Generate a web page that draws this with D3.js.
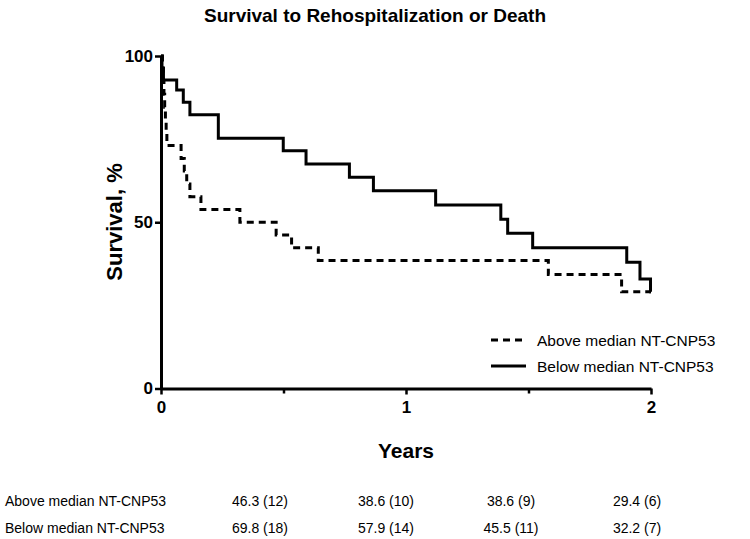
<!DOCTYPE html>
<html><head><meta charset="utf-8">
<script src="https://cdn.jsdelivr.net/npm/d3@7"></script>
<style>
body{margin:0;background:#fff;}
svg{display:block;font-family:Arial,"Liberation Sans",sans-serif;}
</style></head>
<body><svg id="c" width="750" height="539"></svg>
<script>
// ---- data ----
const aboveTimes    = [0, 0.006, 0.009, 0.012, 0.015, 0.018, 0.021, 0.024, 0.082, 0.095, 0.105, 0.118, 0.163, 0.322, 0.470, 0.533, 0.642, 1.581, 1.880, 2.0];
const aboveSurvival = [100, 96.2, 92.3, 88.5, 84.6, 80.8, 76.9, 73.1, 69.2, 65.4, 61.5, 57.7, 53.8, 50.0, 46.2, 42.3, 38.5, 34.3, 29.1, 29.1];
const belowTimes    = [0, 0.004, 0.010, 0.064, 0.091, 0.118, 0.234, 0.499, 0.592, 0.769, 0.867, 1.121, 1.387, 1.415, 1.517, 1.901, 1.955, 1.998, 2.0];
const belowSurvival = [100, 96.4, 92.8, 89.8, 86.1, 82.3, 75.3, 71.5, 67.5, 63.5, 59.5, 55.2, 50.9, 46.7, 42.3, 38.0, 32.9, 29.1, 29.1];
const seriesNames = ["Above median NT-CNP53", "Below median NT-CNP53"];
const xTicks = [0, 1, 2];
const xMinorTicks = [0.5, 1.5];
const yTicks = [0, 50, 100];
const tableRows = ["Above median NT-CNP53", "Below median NT-CNP53"];
const tableAbove = ["46.3 (12)", "38.6 (10)", "38.6 (9)", "29.4 (6)"];
const tableBelow = ["69.8 (18)", "57.9 (14)", "45.5 (11)", "32.2 (7)"];

// ---- drawing ----
const svg = d3.select("#c");
const x = d3.scaleLinear().domain([0, 2]).range([161, 651]);
const y = d3.scaleLinear().domain([0, 100]).range([388.5, 56]);

svg.append("text").attr("x", 375).attr("y", 22).attr("text-anchor", "middle")
  .attr("font-size", 19).attr("font-weight", "bold").text("Survival to Rehospitalization or Death");

const line = d3.line().x(d => x(d[0])).y(d => y(d[1])).curve(d3.curveStepAfter);
const above = aboveTimes.map((t, i) => [t, aboveSurvival[i]]);
const below = belowTimes.map((t, i) => [t, belowSurvival[i]]);

svg.append("path").attr("d", line(above)).attr("fill", "none").attr("stroke", "#000")
  .attr("stroke-width", 3).attr("stroke-dasharray", "7,5");
svg.append("path").attr("d", line(below)).attr("fill", "none").attr("stroke", "#000")
  .attr("stroke-width", 3);

// axes
const yAxis = svg.append("g").attr("transform", `translate(${x(0)},0)`)
  .call(d3.axisLeft(y).tickValues(yTicks).tickSize(6).tickSizeOuter(0).tickPadding(2));
const xAxis = svg.append("g").attr("transform", `translate(0,${y(0)})`)
  .call(d3.axisBottom(x).tickValues(xTicks).tickSize(6).tickSizeOuter(0).tickPadding(6).tickFormat(d3.format("d")));
const xMinor = svg.append("g").attr("transform", `translate(0,${y(0)})`)
  .call(d3.axisBottom(x).tickValues(xMinorTicks).tickSize(5).tickSizeOuter(0).tickFormat(""));
xMinor.select(".domain").remove();
[yAxis, xAxis, xMinor].forEach(g => {
  g.selectAll(".domain").attr("stroke", "#000").attr("stroke-width", 3);
  g.selectAll(".tick line").attr("stroke", "#000").attr("stroke-width", 2.5);
  g.selectAll(".tick text").attr("font-size", 17).attr("font-weight", "bold").attr("fill", "#000")
    .attr("font-family", "Arial,'Liberation Sans',sans-serif");
});

svg.append("text").attr("transform", "translate(122,222) rotate(-90)").attr("text-anchor", "middle")
  .attr("font-size", 22).attr("font-weight", "bold").text("Survival, %");
svg.append("text").attr("x", x(1)).attr("y", 458).attr("text-anchor", "middle")
  .attr("font-size", 21).attr("font-weight", "bold").text("Years");

// legend
const leg = svg.append("g");
seriesNames.forEach((name, i) => {
  const ly = 340 + i * 26;
  leg.append("line").attr("x1", 491).attr("x2", 526).attr("y1", ly).attr("y2", ly)
    .attr("stroke", "#000").attr("stroke-width", 3).attr("stroke-dasharray", i === 0 ? "7,5" : null);
  leg.append("text").attr("x", 537).attr("y", ly + 5.5).attr("font-size", 15.5).text(name);
});

// table
const colX = [260, 386, 511, 637];
[tableAbove, tableBelow].forEach((row, r) => {
  const ty = 506 + r * 27;
  svg.append("text").attr("x", 5).attr("y", ty).attr("font-size", 14).text(tableRows[r]);
  row.forEach((v, c) => {
    svg.append("text").attr("x", colX[c]).attr("y", ty).attr("text-anchor", "middle").attr("font-size", 14).text(v);
  });
});
</script></body></html>
